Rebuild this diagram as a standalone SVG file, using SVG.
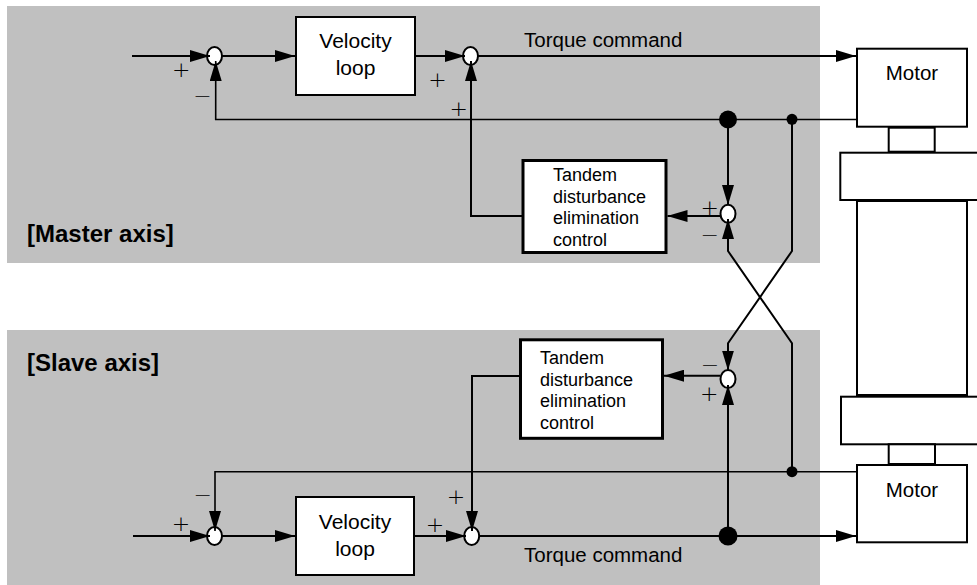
<svg xmlns="http://www.w3.org/2000/svg" width="977" height="585" viewBox="0 0 977 585">
<style>
.panel{fill:#c0c0c0;stroke:none}
.box{fill:#fff;stroke:#000;stroke-width:2}
.tbox{fill:#fff;stroke:#000;stroke-width:3}
.sum{fill:#fff;stroke:#000;stroke-width:2}
.ln{fill:none;stroke:#000;stroke-width:2}
.fb{fill:none;stroke:#000;stroke-width:1.6}
.t{font-family:"Liberation Sans",Arial,sans-serif;font-size:20.5px;fill:#000}
.tv{font-family:"Liberation Sans",Arial,sans-serif;font-size:21px;fill:#000;text-anchor:middle}
.tt{font-family:"Liberation Sans",Arial,sans-serif;font-size:18px;fill:#000}
.ax{font-family:"Liberation Sans",Arial,sans-serif;font-size:24px;font-weight:bold;fill:#000}
.sg{font-family:"DejaVu Sans",sans-serif;font-weight:200;font-size:22px;fill:#000;text-anchor:middle}
</style>
<defs>
<marker id="ah" markerUnits="userSpaceOnUse" markerWidth="20" markerHeight="12" refX="20" refY="6" orient="auto">
<path d="M0,0 L20,6 L0,12 z" fill="#000"/>
</marker>
</defs>

<rect class="panel" x="7" y="6" width="813" height="257"/>
<rect class="panel" x="7" y="330" width="813" height="255"/>

<text class="ax" x="27" y="241.5">[Master axis]</text>
<text class="ax" x="27" y="371">[Slave axis]</text>

<g id="mechanics">
<rect class="box" x="857" y="201" width="110" height="194"/>
<rect class="box" x="888.7" y="127.7" width="46" height="24"/>
<rect class="box" x="840.3" y="152.7" width="150" height="47.3"/>
<rect class="box" x="841" y="396.7" width="150" height="47.6"/>
<rect class="box" x="888.7" y="444.3" width="46.3" height="19.7"/>
</g>

<g id="master-motor">
<rect class="box" x="857" y="48.7" width="110" height="78"/>
<text class="t" x="912" y="80" text-anchor="middle">Motor</text>
</g>
<g id="slave-motor">
<rect class="box" x="857" y="465" width="110" height="77.3"/>
<text class="t" x="912" y="496.7" text-anchor="middle">Motor</text>
</g>

<g id="master-velocity">
<rect class="box" x="296" y="17" width="119" height="78"/>
<text class="tv" x="355.5" y="48">Velocity</text>
<text class="tv" x="355.5" y="75">loop</text>
</g>
<g id="slave-velocity">
<rect class="box" x="296" y="497" width="118" height="78"/>
<text class="tv" x="355" y="528.5">Velocity</text>
<text class="tv" x="355" y="555.5">loop</text>
</g>

<g id="master-tandem">
<rect class="tbox" x="523" y="160.5" width="143" height="92"/>
<text class="tt" x="553" y="181">Tandem</text>
<text class="tt" x="553" y="202.5">disturbance</text>
<text class="tt" x="553" y="224">elimination</text>
<text class="tt" x="553" y="245.5">control</text>
</g>
<g id="slave-tandem">
<rect class="tbox" x="520.5" y="339.8" width="142" height="98.5"/>
<text class="tt" x="540" y="364">Tandem</text>
<text class="tt" x="540" y="385.5">disturbance</text>
<text class="tt" x="540" y="407">elimination</text>
<text class="tt" x="540" y="428.5">control</text>
</g>

<g id="master-sum1"><ellipse class="sum" cx="214.5" cy="56" rx="7.5" ry="9"/></g>
<g id="master-sum2"><ellipse class="sum" cx="470.5" cy="56" rx="7.5" ry="9"/></g>
<g id="master-sum3"><ellipse class="sum" cx="728" cy="213.7" rx="7.5" ry="9"/></g>
<g id="slave-sum1"><ellipse class="sum" cx="214.5" cy="536" rx="7.5" ry="9"/></g>
<g id="slave-sum2"><ellipse class="sum" cx="471.7" cy="536" rx="7.5" ry="9"/></g>
<g id="slave-sum3"><ellipse class="sum" cx="728" cy="379" rx="7.5" ry="9"/></g>

<g id="connectors">
<path class="ln" d="M132,56 H210" marker-end="url(#ah)"/>
<path class="ln" d="M222,56 H295" marker-end="url(#ah)"/>
<path class="ln" d="M416,56 H465" marker-end="url(#ah)"/>
<path class="ln" d="M478,56 H856" marker-end="url(#ah)"/>
<path class="fb" d="M856,119.5 H215.7 V61" marker-end="url(#ah)"/>
<path class="ln" d="M522,216 H471 V61" marker-end="url(#ah)"/>
<path class="ln" d="M728,119.5 V205" marker-end="url(#ah)"/>
<path class="ln" d="M720,216 H667.5" marker-end="url(#ah)"/>
<path class="ln" d="M792,471.7 V343.3 L728,251 V219" marker-end="url(#ah)"/>
<path class="ln" d="M792,119.3 V251 L728,343.3 V370.5" marker-end="url(#ah)"/>
<path class="ln" d="M133,536 H210" marker-end="url(#ah)"/>
<path class="ln" d="M222,536 H295" marker-end="url(#ah)"/>
<path class="ln" d="M415,536 H466" marker-end="url(#ah)"/>
<path class="ln" d="M479,536 H856" marker-end="url(#ah)"/>
<path class="fb" d="M856,471.7 H215 V531" marker-end="url(#ah)"/>
<path class="ln" d="M519,376 H472 V531" marker-end="url(#ah)"/>
<path class="ln" d="M728,536 V385" marker-end="url(#ah)"/>
<path class="ln" d="M720,375.7 H664" marker-end="url(#ah)"/>
<circle cx="728" cy="119.5" r="9"/>
<circle cx="792" cy="119.3" r="5.5"/>
<circle cx="728" cy="536" r="9.5"/>
<circle cx="792" cy="471.7" r="5.5"/>
</g>

<g id="signs">
<text class="sg" x="181.3" y="77.3">+</text>
<text class="sg" x="202.5" y="103.3">−</text>
<text class="sg" x="437.5" y="87.3">+</text>
<text class="sg" x="458.8" y="115.6">+</text>
<text class="sg" x="709.7" y="215.3">+</text>
<text class="sg" x="709.7" y="242.3">−</text>
<text class="sg" x="181" y="531.3">+</text>
<text class="sg" x="202.7" y="502.3">−</text>
<text class="sg" x="435" y="532.3">+</text>
<text class="sg" x="456" y="504">+</text>
<text class="sg" x="710" y="371.6">−</text>
<text class="sg" x="709.3" y="400.6">+</text>
</g>

<text class="t" x="524" y="47">Torque command</text>
<text class="t" x="524" y="562">Torque command</text>
</svg>
